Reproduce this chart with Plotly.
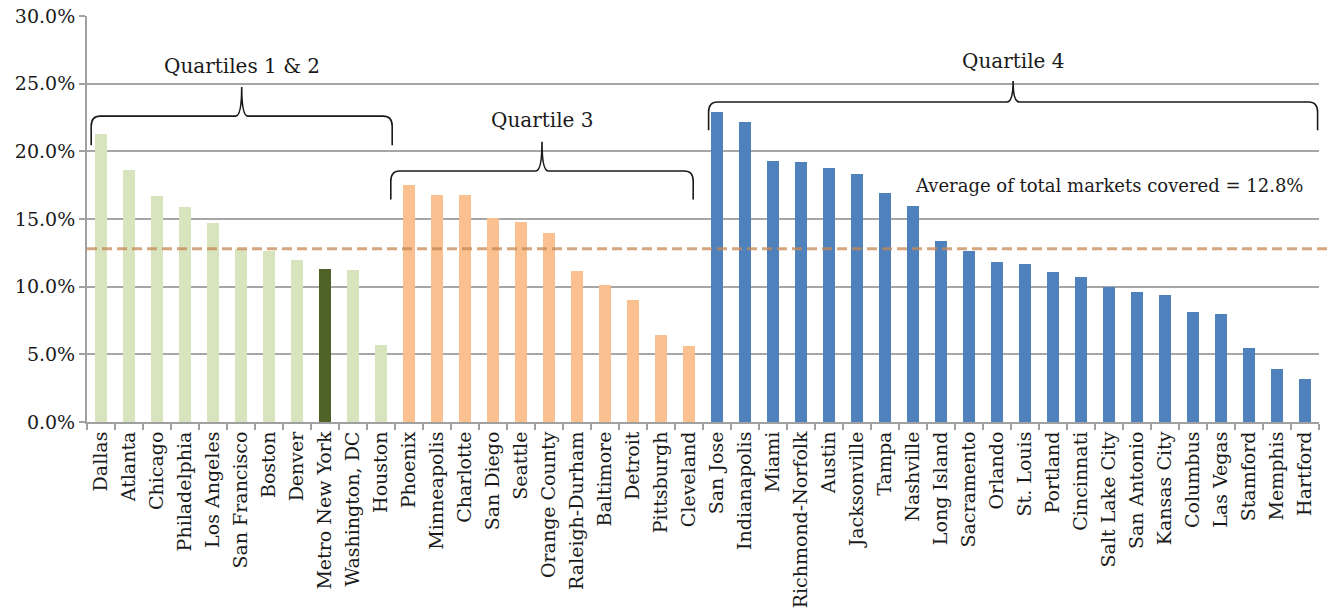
import plotly.graph_objects as go

# Share of total markets covered, by metro area (percent)
cities = [
    "Dallas", "Atlanta", "Chicago", "Philadelphia", "Los Angeles", "San Francisco",
    "Boston", "Denver", "Metro New York", "Washington, DC", "Houston",
    "Phoenix", "Minneapolis", "Charlotte", "San Diego", "Seattle", "Orange County",
    "Raleigh-Durham", "Baltimore", "Detroit", "Pittsburgh", "Cleveland",
    "San Jose", "Indianapolis", "Miami", "Richmond-Norfolk", "Austin", "Jacksonville",
    "Tampa", "Nashville", "Long Island", "Sacramento", "Orlando", "St. Louis",
    "Portland", "Cincinnati", "Salt Lake City", "San Antonio", "Kansas City",
    "Columbus", "Las Vegas", "Stamford", "Memphis", "Hartford",
]
share = [
    21.3, 18.6, 16.7, 15.9, 14.7, 12.8, 12.6, 12.0, 11.3, 11.25, 5.7,
    17.5, 16.8, 16.8, 15.05, 14.8, 14.0, 11.15, 10.1, 9.0, 6.4, 5.6,
    22.9, 22.2, 19.3, 19.2, 18.75, 18.35, 16.9, 15.95, 13.35, 12.6, 11.8, 11.65,
    11.05, 10.7, 9.97, 9.6, 9.38, 8.1, 8.0, 5.45, 3.9, 3.15,
]
group = ["Q12"] * 11 + ["Q3"] * 11 + ["Q4"] * 22
highlight = "Metro New York"
average = 12.8

group_labels = {"Q12": "Quartiles 1 & 2", "Q3": "Quartile 3", "Q4": "Quartile 4"}
group_colors = {"Q12": "#D7E4BD", "Q3": "#FAC090", "Q4": "#4F81BD"}
highlight_color = "#4F6228"

FONT = "DejaVu Serif"
TEXT = "#1A1A1A"
x_idx = list(range(len(cities)))
colors = [highlight_color if c == highlight else group_colors[g] for c, g in zip(cities, group)]

fig = go.Figure()
fig.add_trace(go.Bar(
    x=x_idx, y=share, width=0.43,
    marker=dict(color=colors, line=dict(width=0)),
    hovertext=cities, hoverinfo="text+y",
))


def brace_path(x0, x1, y_tip, y_bar, y_cusp):
    """Curly brace opening downward, drawn in data coordinates."""
    xm = (x0 + x1) / 2
    rx, ry = 0.32, 0.75      # end-corner rounding
    cx = 0.22                # cusp half-width
    return (
        f"M {x0},{y_tip} L {x0},{y_bar - ry} Q {x0},{y_bar} {x0 + rx},{y_bar} "
        f"L {xm - cx},{y_bar} Q {xm},{y_bar} {xm},{y_cusp} "
        f"Q {xm},{y_bar} {xm + cx},{y_bar} "
        f"L {x1 - rx},{y_bar} Q {x1},{y_bar} {x1},{y_bar - ry} L {x1},{y_tip}"
    )


# Brace geometry per group: (left, right, tip, bar, cusp, label height)
brace_specs = {
    "Q12": (-0.35, 10.4, 20.45, 22.6, 24.75, 26.3),
    "Q3": (10.35, 21.15, 16.45, 18.55, 20.7, 22.3),
    "Q4": (21.7, 43.45, 21.55, 23.65, 25.2, 26.7),
}

shapes = []
annotations = []
for key, (x0, x1, yt, yb, yc, yl) in brace_specs.items():
    shapes.append(dict(
        type="path", xref="x", yref="y", path=brace_path(x0, x1, yt, yb, yc),
        line=dict(color=TEXT, width=1.6),
    ))
    annotations.append(dict(
        x=(x0 + x1) / 2, y=yl, xref="x", yref="y", text=group_labels[key],
        showarrow=False, font=dict(family=FONT, size=20, color=TEXT),
        xanchor="center", yanchor="middle",
    ))

# Average reference line
shapes.append(dict(
    type="line", xref="paper", yref="y", x0=0, x1=1.008, y0=average, y1=average,
    line=dict(color="rgba(196,136,84,0.75)", width=3, dash="10px,5px"),
    layer="above",
))
annotations.append(dict(
    x=43.0, y=17.5, xref="x", yref="y", xanchor="right", yanchor="middle",
    text=f"Average of total markets covered = {average:.1f}%", showarrow=False,
    font=dict(family=FONT, size=18, color=TEXT),
))

fig.update_layout(
    width=1329, height=611,
    margin=dict(l=87, r=10, t=16, b=189),
    paper_bgcolor="white", plot_bgcolor="white",
    showlegend=False, bargap=0,
    shapes=shapes, annotations=annotations,
    font=dict(family=FONT, color=TEXT),
)
fig.update_xaxes(
    range=[-0.5, len(cities) - 0.5], automargin=False,
    tickmode="array", tickvals=x_idx, ticktext=cities,
    tickangle=-90, tickfont=dict(family=FONT, size=19, color=TEXT),
    ticks="", showgrid=False,
    showline=True, linecolor="#A0A0A0", linewidth=2,
    minor=dict(tickmode="array", tickvals=[i - 0.5 for i in range(len(cities) + 1)],
               ticks="outside", ticklen=6, tickcolor="#A0A0A0", tickwidth=1.5,
               showgrid=False),
    zeroline=False,
)
fig.update_yaxes(
    range=[0, 30], dtick=5, tick0=0, automargin=False,
    ticksuffix="%", tickformat=".1f",
    tickfont=dict(family=FONT, size=19, color=TEXT),
    ticks="outside", ticklen=6, tickcolor="#A0A0A0", tickwidth=1.5,
    showgrid=True, gridcolor="#A6A6A6", gridwidth=1.5,
    showline=True, linecolor="#A0A0A0", linewidth=2,
    zeroline=False,
)

fig.write_html("out.html")
